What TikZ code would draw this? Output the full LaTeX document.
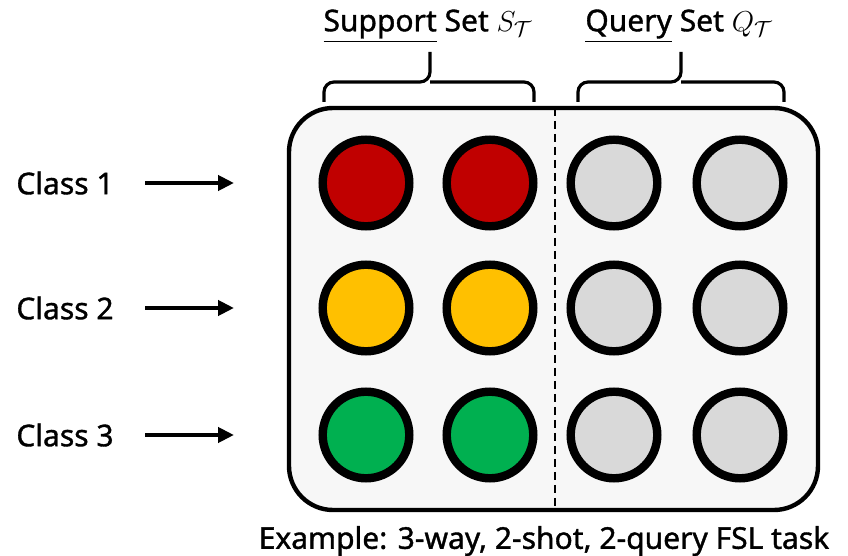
\documentclass[tikz,border=0pt]{standalone}
\usepackage{fontspec}
\setmainfont[FakeBold=1.2]{Noto Sans}
\usetikzlibrary{arrows.meta}

\definecolor{redfill}{HTML}{C00000}
\definecolor{yellowfill}{HTML}{FFC000}
\definecolor{greenfill}{HTML}{00B050}
\definecolor{greyfill}{HTML}{D9D9D9}
\definecolor{boxfill}{HTML}{F7F7F7}

\tikzset{
  label text/.style={font=\fontsize{15}{18}\selectfont, inner sep=0pt},
  sample/.style={circle, draw, line width=4.2pt, minimum size=43.3pt, inner sep=0pt},
  class arrow/.style={line width=2pt, -{Triangle[length=8pt,width=7.5pt]}},
  set brace/.style={line width=1.6pt, rounded corners=5pt},
}

\begin{document}
\begin{tikzpicture}[x=0.5pt,y=-0.5pt]
\useasboundingbox (0,0) rectangle (848,556);

% task box and split between support and query
\draw [line width=2.2pt, fill=boxfill, rounded corners=22pt] (289,108) rectangle (818,510);
\coordinate (splittop) at (555,108);
\coordinate (splitbot) at (555,510);
\draw [line width=1.2pt, dash pattern=on 4pt off 2.5pt] (splittop) -- (splitbot);

% samples: rows are classes, columns are shots / queries
\foreach \row/\y/\col in {1/183/redfill, 2/308/yellowfill, 3/435/greenfill} {
  \node [sample, fill=\col] (s\row a) at (366,\y) {};
  \node [sample, fill=\col] (s\row b) at (490,\y) {};
  \node [sample, fill=greyfill] (q\row a) at (614,\y) {};
  \node [sample, fill=greyfill] (q\row b) at (740,\y) {};
  \node [label text, anchor=east] (class\row) at (114,\y) {Class \row};
  \coordinate (tip\row) at (234,\y);
  \draw [class arrow] (145,\y) -- (tip\row);
}

% braces over the two sets
\draw [set brace] (324,102) -- (324,82) -- (430,82) -- (430,52);
\draw [set brace] (534,102) -- (534,82) -- (430,82);
\draw [set brace] (578,102) -- (578,82) -- (681,82) -- (681,52);
\draw [set brace] (784,102) -- (784,82) -- (681,82);

% titles
\node [label text] (support) at (428,26) {\underline{Support} Set $S_{\mathcal{T}}$};
\node [label text] (query) at (679,26) {\underline{Query} Set $Q_{\mathcal{T}}$};
\node [label text] (caption) at (544,541) {Example: 3-way, 2-shot, 2-query FSL task};

\end{tikzpicture}
\end{document}
